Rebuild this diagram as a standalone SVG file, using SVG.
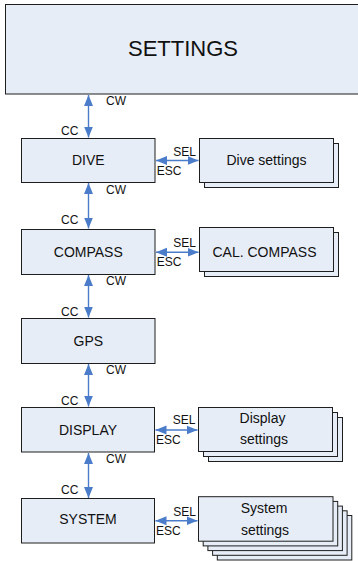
<svg xmlns="http://www.w3.org/2000/svg" width="358" height="561" viewBox="0 0 358 561">
<defs>
<style>
.box{fill:#E7EDF7;stroke:#1e1e1e;stroke-width:1}
.t{font-family:"Liberation Sans",Arial,sans-serif;font-size:14px;fill:#111;text-anchor:middle}
.big{font-family:"Liberation Sans",Arial,sans-serif;font-size:22px;fill:#111;text-anchor:middle}
.lbl{font-family:"Liberation Sans",Arial,sans-serif;font-size:12px;fill:#111}
.con{stroke:#4A7CC9;stroke-width:1.4;fill:none;marker-start:url(#ah);marker-end:url(#ah)}
</style>
<marker id="ah" markerUnits="userSpaceOnUse" markerWidth="12" markerHeight="10" refX="11" refY="4.5" orient="auto-start-reverse" viewBox="0 0 12 9">
<path d="M0,0 L11,4.5 L0,9 Z" fill="#4A7CC9"/>
</marker>
</defs>
<rect width="358" height="561" fill="#fff"/>
<g id="settings">
<rect class="box" x="5.5" y="4.5" width="360" height="89.5"/>
<text class="big" x="183" y="55.7">SETTINGS</text>
</g>
<g id="dive">
<rect class="box" x="21.5" y="138.5" width="133.5" height="44"/>
<text class="t" x="88.3" y="165">DIVE</text>
</g>
<g id="dive-settings">
<rect class="box" x="204.5" y="143.5" width="134" height="44"/>
<rect class="box" x="199.5" y="138.5" width="134" height="44"/>
<text class="t" x="266.5" y="165">Dive settings</text>
</g>
<g id="compass">
<rect class="box" x="21.5" y="229.5" width="133.5" height="45"/>
<text class="t" x="88.3" y="257">COMPASS</text>
</g>
<g id="cal-compass">
<rect class="box" x="204.5" y="232.5" width="134" height="44"/>
<rect class="box" x="199.5" y="227.5" width="134" height="44"/>
<text class="t" x="264.5" y="257">CAL. COMPASS</text>
</g>
<g id="gps">
<rect class="box" x="21.5" y="318.5" width="133.5" height="45"/>
<text class="t" x="88.3" y="345.7">GPS</text>
</g>
<g id="display">
<rect class="box" x="21.5" y="407.5" width="133" height="44.5"/>
<text class="t" x="88" y="435">DISPLAY</text>
</g>
<g id="display-settings">
<rect class="box" x="208.5" y="417.5" width="134" height="44"/>
<rect class="box" x="203.5" y="412.5" width="134" height="44"/>
<rect class="box" x="198.5" y="407.5" width="134" height="44"/>
<text class="t" x="262.5" y="422.7">Display</text>
<text class="t" x="264" y="444.3">settings</text>
</g>
<g id="system">
<rect class="box" x="21.5" y="498.5" width="133" height="44.5"/>
<text class="t" x="88" y="524.3">SYSTEM</text>
</g>
<g id="system-settings">
<rect class="box" x="217.3" y="515.5" width="134.5" height="44.5"/>
<rect class="box" x="212.6" y="510.8" width="134.5" height="44.5"/>
<rect class="box" x="207.9" y="506.1" width="134.5" height="44.5"/>
<rect class="box" x="203.2" y="501.4" width="134.5" height="44.5"/>
<rect class="box" x="198.5" y="496.7" width="134.5" height="44.5"/>
<text class="t" x="264" y="512.7">System</text>
<text class="t" x="265" y="535">settings</text>
</g>
<g id="connectors">
<line class="con" x1="88.5" y1="95" x2="88.5" y2="137.5"/>
<line class="con" x1="88.5" y1="183" x2="88.5" y2="228.5"/>
<line class="con" x1="88.5" y1="275" x2="88.5" y2="317.5"/>
<line class="con" x1="88.5" y1="364" x2="88.5" y2="406.5"/>
<line class="con" x1="88.5" y1="453" x2="88.5" y2="498"/>
<line class="con" x1="156" y1="160.5" x2="198.5" y2="160.5"/>
<line class="con" x1="156" y1="252.3" x2="198.5" y2="252.3"/>
<line class="con" x1="155.5" y1="430" x2="197.5" y2="430"/>
<line class="con" x1="155.5" y1="520.7" x2="197.5" y2="520.7"/>
</g>
<g id="labels">
<text class="lbl" x="106" y="104.7">CW</text>
<text class="lbl" x="61" y="135">CC</text>
<text class="lbl" x="106" y="194">CW</text>
<text class="lbl" x="61" y="224">CC</text>
<text class="lbl" x="106" y="285">CW</text>
<text class="lbl" x="61" y="315.7">CC</text>
<text class="lbl" x="106" y="374">CW</text>
<text class="lbl" x="61" y="405">CC</text>
<text class="lbl" x="106" y="463.3">CW</text>
<text class="lbl" x="61" y="494">CC</text>
<text class="lbl" x="173.3" y="155.7">SEL</text>
<text class="lbl" x="156.7" y="175">ESC</text>
<text class="lbl" x="173.3" y="246.7">SEL</text>
<text class="lbl" x="156.7" y="266">ESC</text>
<text class="lbl" x="172.7" y="424.3">SEL</text>
<text class="lbl" x="156" y="444">ESC</text>
<text class="lbl" x="173.3" y="515.7">SEL</text>
<text class="lbl" x="156" y="534.7">ESC</text>
</g>
</svg>
